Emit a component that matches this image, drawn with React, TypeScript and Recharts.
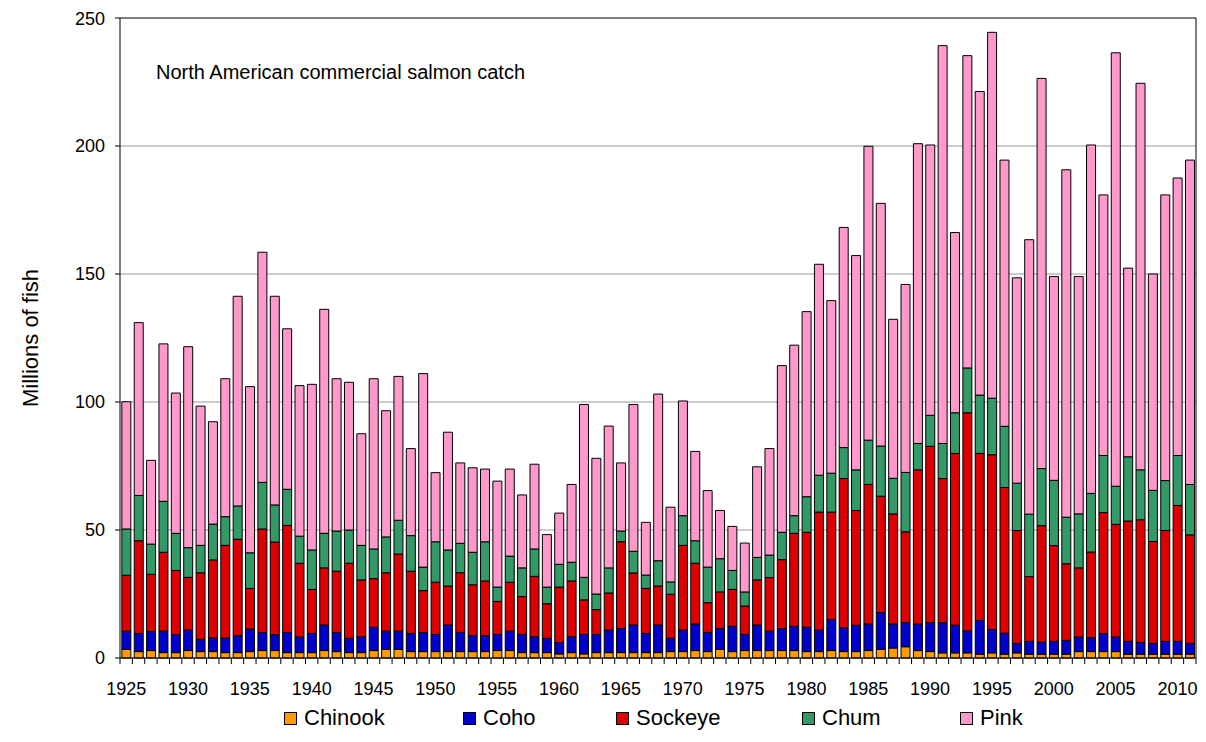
import React from 'react';
import { BarChart, Bar, XAxis, YAxis, CartesianGrid, ReferenceLine, Legend } from 'recharts';

const years = [
  '1925','1926','1927','1928','1929','1930','1931','1932','1933','1934',
  '1935','1936','1937','1938','1939','1940','1941','1942','1943','1944',
  '1945','1946','1947','1948','1949','1950','1951','1952','1953','1954',
  '1955','1956','1957','1958','1959','1960','1961','1962','1963','1964',
  '1965','1966','1967','1968','1969','1970','1971','1972','1973','1974',
  '1975','1976','1977','1978','1979','1980','1981','1982','1983','1984',
  '1985','1986','1987','1988','1989','1990','1991','1992','1993','1994',
  '1995','1996','1997','1998','1999','2000','2001','2002','2003','2004',
  '2005','2006','2007','2008','2009','2010','2011',
];

const tickLabels = ['1925','1930','1935','1940','1945','1950','1955','1960','1965','1970','1975','1980','1985','1990','1995','2000','2005','2010'];
const yTicks = [0, 50, 100, 150, 200, 250];

const chinook = [
  3.4,2.5,2.9,2.1,2.1,2.9,2.5,2.5,2.1,2.1,
  2.5,2.9,2.9,2.1,2.1,2.1,2.9,2.5,2.1,2.1,
  2.9,3.4,3.4,2.5,2.5,2.5,2.5,2.5,2.5,2.5,
  2.9,2.9,2.1,2.1,2.1,1.6,2.1,1.6,2.1,2.1,
  2.1,2.1,2.1,2.1,2.5,2.5,2.9,2.5,3.4,2.5,
  2.9,2.9,2.9,2.9,2.9,2.5,2.5,2.9,2.5,2.5,
  2.9,3.4,3.9,4.4,2.9,2.5,2.0,2.0,2.0,1.5,
  2.0,1.5,2.0,1.5,1.5,1.5,1.5,2.5,2.5,2.5,
  2.5,1.5,1.5,1.5,1.5,1.5,1.5,
];
const coho = [
  7.1,7.1,7.5,8.4,7.0,8.0,4.8,5.3,5.7,6.6,
  8.8,7.1,6.2,7.9,6.1,7.5,10.0,7.5,5.6,6.2,
  9.1,7.1,7.1,7.1,7.5,6.7,10.4,7.5,6.2,6.2,
  6.3,7.6,7.1,6.2,5.6,4.4,6.2,7.6,7.1,8.8,
  9.4,10.8,7.5,10.8,5.2,8.4,10.4,7.5,8.1,9.9,
  6.3,10.0,7.6,8.6,9.5,9.5,8.4,12.1,9.3,10.3,
  10.4,14.4,9.4,9.4,10.4,11.3,11.8,10.8,8.6,13.2,
  9.1,8.2,3.7,5.0,4.7,5.0,5.4,5.7,5.4,7.0,
  5.7,5.0,4.6,4.2,5.0,5.0,4.2,
];
const sockeye = [
  21.8,36.2,22.3,30.8,25.1,20.6,26.0,30.5,36.2,37.7,
  15.9,40.4,36.2,41.8,28.8,17.2,22.3,23.9,29.3,22.2,
  19.0,22.8,30.1,24.3,16.3,20.4,15.2,23.3,19.9,21.4,
  12.9,19.1,14.8,23.6,13.5,21.7,21.8,13.5,9.7,14.5,
  33.9,20.3,17.6,15.2,17.2,33.1,23.7,11.6,14.3,14.4,
  11.1,17.6,20.9,26.9,36.3,37.1,46.1,42.0,58.3,44.8,
  54.5,45.4,43.0,35.5,60.2,68.9,56.3,67.1,85.2,65.2,
  68.3,56.9,44.1,25.3,45.5,37.4,29.9,27.0,33.5,47.3,
  44.0,47.0,47.9,39.8,43.3,53.1,42.4,
];
const chum = [
  18.1,17.7,11.8,19.9,14.5,11.6,10.7,14.0,11.2,13.0,
  13.9,18.2,14.5,14.1,10.6,15.4,13.5,15.7,13.0,13.5,
  11.6,14.0,13.2,13.9,9.2,15.8,14.1,11.5,12.7,15.3,
  5.6,10.2,11.2,10.7,6.5,8.9,7.3,8.8,6.1,9.8,
  4.2,8.5,5.2,9.9,4.8,11.6,8.8,13.9,13.0,7.4,
  5.5,8.8,8.8,10.7,6.9,13.9,14.4,15.2,12.1,15.9,
  17.3,19.6,13.9,23.2,10.3,12.1,13.7,15.9,17.5,22.8,
  22.1,23.9,18.5,24.4,22.3,25.5,18.2,21.1,22.9,22.3,
  14.9,25.1,19.5,20.0,19.5,19.5,19.7,
];
const pink = [
  49.7,67.5,32.7,61.5,54.8,78.5,54.4,40.0,53.9,81.9,
  64.9,89.9,81.5,62.7,58.8,64.7,87.5,59.5,57.7,43.6,
  66.5,49.3,56.2,34.0,75.6,27.0,46.0,31.4,33.0,28.4,
  41.4,34.0,28.5,33.1,20.5,20.0,30.4,67.5,53.0,55.4,
  26.6,57.3,20.6,65.1,29.2,44.8,34.9,29.9,18.8,17.2,
  19.1,35.4,41.6,65.1,66.6,72.3,82.4,67.4,86.0,83.7,
  114.8,94.8,62.1,73.4,117.1,105.6,155.4,70.4,122.0,118.6,
  142.9,104.0,80.2,107.2,152.4,79.6,135.7,92.7,136.1,101.8,
  169.3,73.7,151.0,84.5,111.6,108.4,126.7,
];

const data = years.map((year, i) => ({
  year,
  chinook: chinook[i],
  coho: coho[i],
  sockeye: sockeye[i],
  chum: chum[i],
  pink: pink[i],
}));

const series = [
  { key: 'chinook', name: 'Chinook', color: '#FF9900' },
  { key: 'coho', name: 'Coho', color: '#0000CC' },
  { key: 'sockeye', name: 'Sockeye', color: '#DD0000' },
  { key: 'chum', name: 'Chum', color: '#339966' },
  { key: 'pink', name: 'Pink', color: '#FF99CC' },
];

const CHART_W = 1190;
const CHART_H = 726;
const Y_W = 112;
const RIGHT_W = 2;
const PLOT_W = CHART_W - Y_W - RIGHT_W;
const BAND = PLOT_W / years.length;
const LEGEND_X = [276, 455, 608, 794, 952];
const FONT = '"Liberation Sans", Arial, sans-serif';

const XTick = (props: any) => {
  const { x, y, payload, index } = props;
  const left = x - BAND / 2;
  const isLast = index === years.length - 1;
  const show = tickLabels.includes(String(payload.value));
  return (
    <g>
      <line x1={left} x2={left} y1={y} y2={y + 6} stroke="#000" strokeWidth={1} />
      {isLast && <line x1={x + BAND / 2} x2={x + BAND / 2} y1={y} y2={y + 6} stroke="#000" strokeWidth={1} />}
      {show && (
        <text x={x} y={y + 37} textAnchor="middle" fontSize={18} fill="#000" fontFamily={FONT}>
          {payload.value}
        </text>
      )}
    </g>
  );
};

const YLabel = (props: any) => {
  const vb = props.viewBox || { x: 0, y: 10, width: Y_W, height: 640 };
  const cx = vb.x + 30;
  const cy = vb.y + vb.height / 2;
  return (
    <text x={cx} y={cy} transform={`rotate(-90 ${cx} ${cy})`} textAnchor="middle" fontSize={22} fill="#000" fontFamily={FONT}>
      Millions of fish
    </text>
  );
};

const TitleLabel = (props: any) => {
  const vb = props.viewBox || { x: Y_W, y: 10 };
  return (
    <text x={vb.x + 36} y={vb.y + 61} fontSize={20} fill="#000" fontFamily={FONT}>
      North American commercial salmon catch
    </text>
  );
};

const LegendContent = () => (
  <div style={{ position: 'relative', height: 36, width: '100%', fontFamily: FONT }}>
    {series.map((s, i) => (
      <div
        key={s.key}
        style={{
          position: 'absolute',
          left: LEGEND_X[i],
          top: 8,
          display: 'flex',
          alignItems: 'center',
          lineHeight: '24px',
          height: 24,
          fontSize: 22,
          color: '#000',
          whiteSpace: 'nowrap',
        }}
      >
        <span style={{ display: 'inline-block', width: 11, height: 11, background: s.color, border: '1px solid #000' }} />
        <span style={{ marginLeft: 7 }}>{s.name}</span>
      </div>
    ))}
  </div>
);

export default function App() {
  return (
    <div style={{ width: CHART_W, height: CHART_H, fontFamily: FONT, position: 'relative' }}>
      <BarChart
        width={CHART_W}
        height={CHART_H}
        data={data}
        margin={{ top: 10, right: 0, bottom: 0, left: 0 }}
        barCategoryGap="15%"
      >
        <CartesianGrid vertical={false} stroke="#999" strokeWidth={1} />
        <XAxis
          dataKey="year"
          interval={0}
          tick={<XTick />}
          tickLine={false}
          tickSize={0}
          tickMargin={0}
          axisLine={{ stroke: '#000' }}
          height={40}
        />
        <YAxis
          domain={[0, 250]}
          ticks={yTicks}
          width={Y_W}
          tickSize={5}
          tickMargin={10}
          tick={{ fontSize: 18, fill: '#000', fontFamily: FONT }}
          tickLine={{ stroke: '#000' }}
          axisLine={{ stroke: '#000' }}
          label={<YLabel />}
        />
        <YAxis
          yAxisId="right"
          orientation="right"
          domain={[0, 250]}
          width={RIGHT_W}
          tick={false}
          tickLine={false}
          axisLine={{ stroke: '#000' }}
        />
        <ReferenceLine y={250} stroke="#333" label={<TitleLabel />} />
        <Legend verticalAlign="bottom" content={<LegendContent />} />
        {series.map((s) => (
          <Bar
            key={s.key}
            dataKey={s.key}
            name={s.name}
            stackId="a"
            fill={s.color}
            stroke="#000"
            strokeWidth={1}
            isAnimationActive={false}
          />
        ))}
      </BarChart>
    </div>
  );
}
